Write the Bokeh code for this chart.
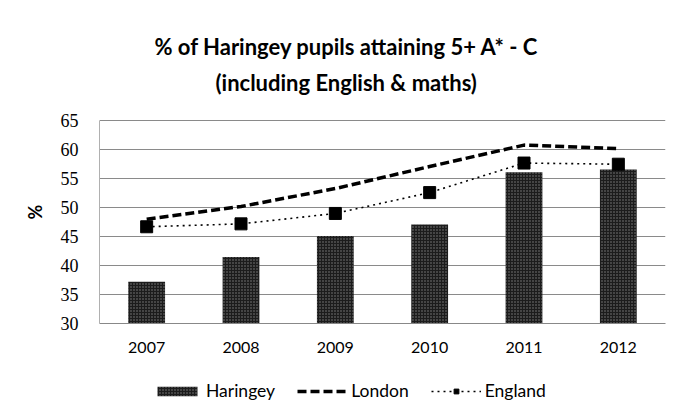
from bokeh.plotting import figure
from bokeh.layouts import column
from bokeh.models import Legend, LegendItem, Title, FixedTicker
from bokeh.embed import file_html
from bokeh.resources import INLINE

years = ["2007", "2008", "2009", "2010", "2011", "2012"]
haringey = [37.2, 41.5, 45.1, 47.1, 56.1, 56.6]
london = [48.0, 50.2, 53.3, 57.1, 60.8, 60.2]
england = [46.7, 47.2, 49.0, 52.6, 57.7, 57.5]
y_ticks = [30, 35, 40, 45, 50, 55, 60, 65]
series_names = ["Haringey", "London", "England"]

BAR_STYLE = dict(fill_color="#1c1c1c", line_color=None, hatch_pattern="dot",
                 hatch_color="white", hatch_scale=3, hatch_alpha=0.45,
                 hatch_weight=1)
LON_STYLE = dict(line_color="black", line_width=3.5, line_dash="9 4")
ENG_STYLE = dict(line_color="black", line_width=1.6, line_dash="2 4")
SQ_STYLE = dict(marker="square", size=12, fill_color="black",
                line_color="black")

p = figure(x_range=years, y_range=(30, 68.5), width=669, height=360,
           output_backend="svg", toolbar_location=None,
           title="% of Haringey pupils attaining 5+ A* - C",
           min_border_left=99, min_border_right=4,
           min_border_top=100, min_border_bottom=37)

p.title.align = "left"
p.title.offset = 55
p.title.standoff = 4
p.title.text_font = "Lato"
p.title.text_font_size = "22px"
p.title.text_font_style = "bold"
p.title.text_color = "black"

sub = Title(text="(including English & maths)", align="left", offset=116,
            text_font="Lato", text_font_size="22px", text_font_style="bold",
            text_color="black")
p.add_layout(sub, "above")

p.vbar(x=years, top=haringey, bottom=30, width=0.39, **BAR_STYLE)
p.line(x=years, y=london, **LON_STYLE)
p.line(x=years, y=england, **ENG_STYLE)
p.scatter(x=years, y=england, **SQ_STYLE)

p.yaxis.ticker = FixedTicker(ticks=y_ticks)
p.yaxis.bounds = (30, 65)
p.yaxis.major_tick_line_color = None
p.yaxis.minor_tick_line_color = None
p.yaxis.axis_line_color = "#b0b0b0"
p.yaxis.major_label_text_font = "Liberation Serif"
p.yaxis.major_label_text_font_size = "18px"
p.yaxis.major_label_text_color = "black"
p.yaxis.major_label_standoff = 15
p.yaxis.axis_label = "%"
p.yaxis.axis_label_text_font = "Lato"
p.yaxis.axis_label_text_font_style = "bold"
p.yaxis.axis_label_text_font_size = "18px"
p.yaxis.axis_label_text_color = "black"
p.yaxis.axis_label_standoff = 12

p.xaxis.major_tick_line_color = None
p.xaxis.minor_tick_line_color = None
p.xaxis.axis_line_color = "#888888"
p.xaxis.major_label_text_font = "Lato"
p.xaxis.major_label_text_font_size = "16px"
p.xaxis.major_label_text_color = "black"
p.xaxis.major_label_standoff = 12

p.xgrid.grid_line_color = None
p.ygrid.grid_line_color = "#8a8a8a"
p.ygrid.grid_line_width = 1
p.outline_line_color = None

# legend strip below the chart (series renderers hidden, only the legend shows)
p2 = figure(x_range=years, y_range=(0, 1), width=669, height=59,
            output_backend="svg", toolbar_location=None,
            x_axis_location=None, y_axis_location=None,
            min_border_left=0, min_border_right=0,
            min_border_top=0, min_border_bottom=0)
p2.grid.visible = False
p2.outline_line_color = None
lb = p2.vbar(x=years, top=haringey, bottom=30, width=0.39, **BAR_STYLE)
ll = p2.line(x=years, y=london, **LON_STYLE)
le = p2.line(x=years, y=england, **ENG_STYLE)
ls = p2.scatter(x=years, y=england, **SQ_STYLE)
for r in (lb, ll, le, ls):
    r.visible = False

legend = Legend(items=[
    LegendItem(label=series_names[0], renderers=[lb]),
    LegendItem(label=series_names[1], renderers=[ll]),
    LegendItem(label=series_names[2], renderers=[le, ls]),
], orientation="horizontal", location=(53, 18))
legend.label_text_font = "Lato"
legend.label_text_font_size = "17.5px"
legend.label_text_color = "black"
legend.glyph_width = 50
legend.glyph_height = 12
legend.label_standoff = 4
legend.spacing = 22
legend.margin = 0
legend.padding = 5
legend.border_line_color = None
legend.background_fill_alpha = 0
p2.add_layout(legend)

layout = column(p, p2, spacing=0)
open("out.html", "w").write(file_html(layout, INLINE))
